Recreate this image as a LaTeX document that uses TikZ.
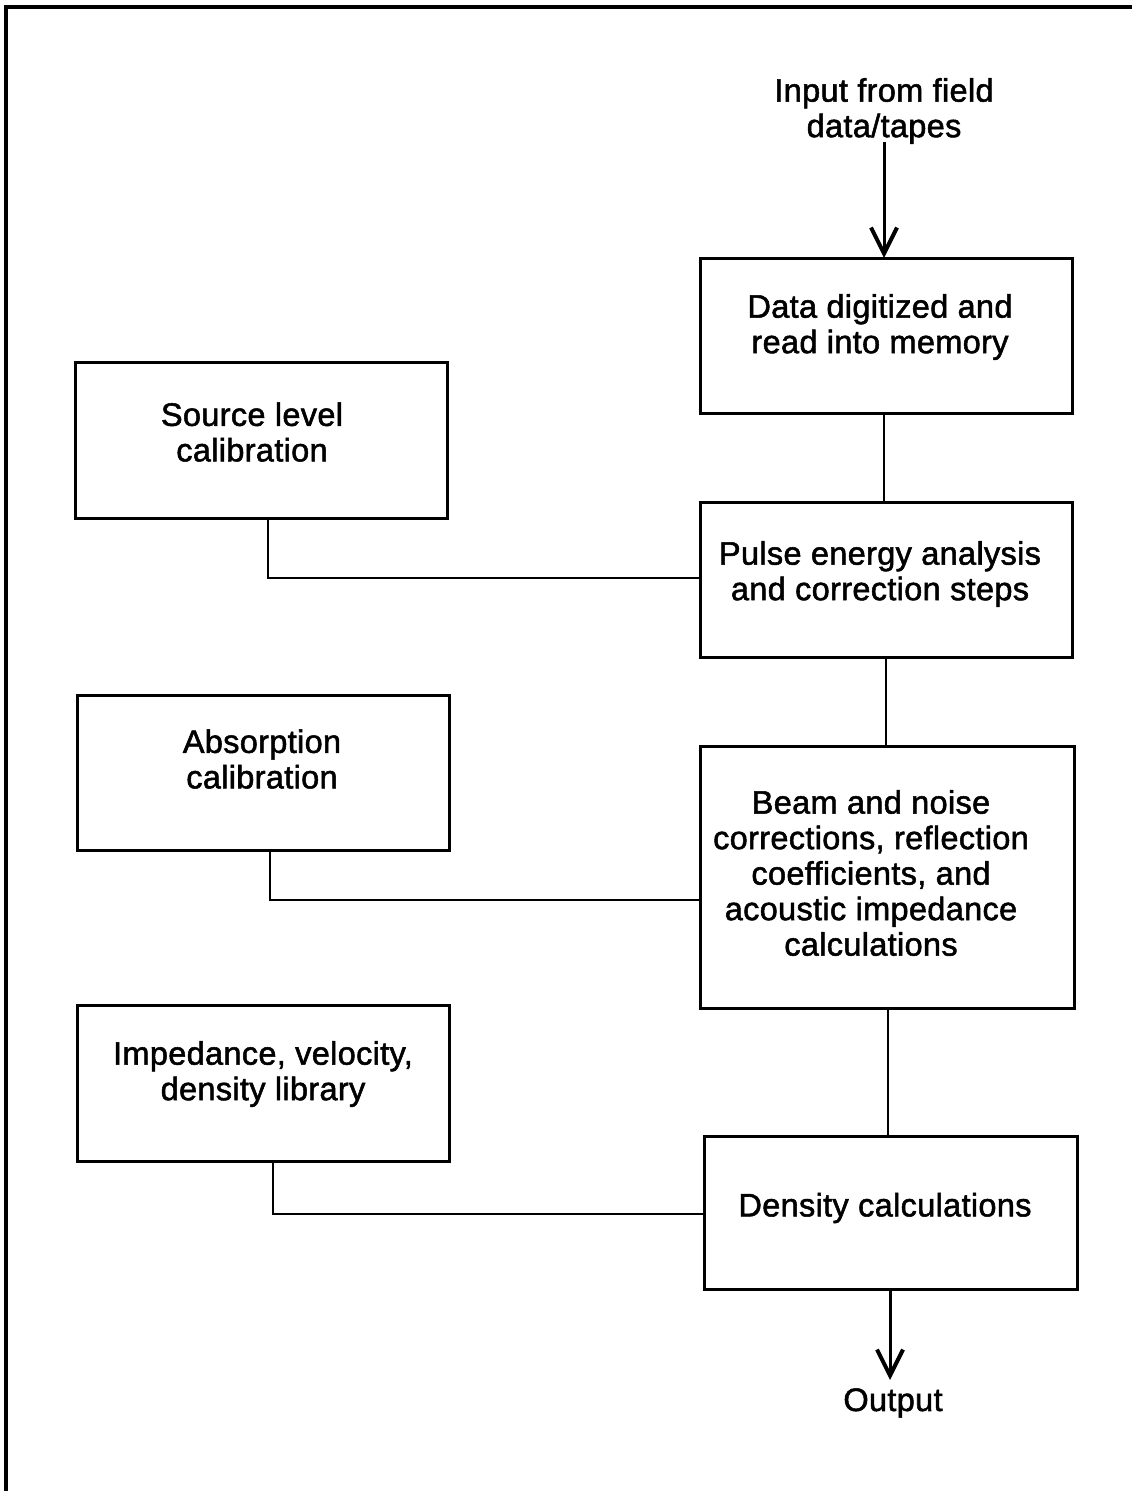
\documentclass[tikz,border=0pt]{standalone}
\usepackage{fontspec}
\setmainfont[LetterSpace=1,FakeBold=1.6]{Liberation Sans}
\usetikzlibrary{arrows.meta}
\begin{document}
\begin{tikzpicture}[x=1pt,y=-1pt,
  box/.style={draw, line width=3pt, inner sep=0pt, outer sep=0pt},
  txt/.style={font=\fontsize{32.5}{35.5}\selectfont, align=center, inner sep=1pt},
  conn/.style={line width=2.8pt},
  arr/.style={line width=3pt, -{Straight Barb[length=26pt,width=26pt,line width=4pt]}}]
\useasboundingbox (0,0) rectangle (1132,1491);
\draw[line width=3.5pt] (6,1491) -- (6,7) -- (1132,7);
% right column boxes
\node[box, minimum width=372pt, minimum height=155pt] (b1) at (886,335.5) {};
\node[box, minimum width=372pt, minimum height=155pt] (b2) at (886,579.5) {};
\node[box, minimum width=374pt, minimum height=262pt] (b3) at (887,877) {};
\node[box, minimum width=373pt, minimum height=153pt] (b4) at (890.5,1212.5) {};
% left column boxes
\node[box, minimum width=372pt, minimum height=156pt] (s1) at (261,440) {};
\node[box, minimum width=372pt, minimum height=155pt] (s2) at (263,772.5) {};
\node[box, minimum width=372pt, minimum height=156pt] (s3) at (263,1083) {};
% texts
\node[txt] (tin) at (884,111) {Input from field\\data/tapes};
\node[txt] (t1) at (880,327) {Data digitized and\\read into memory};
\node[txt] (t2) at (880,574) {Pulse energy analysis\\and correction steps};
\node[txt] (t3) at (871,873) {Beam and noise\\corrections, reflection\\coefficients, and\\acoustic impedance\\calculations};
\node[txt] (t4) at (885,1208) {Density calculations};
\node[txt] (ts1) at (252,432) {Source level\\calibration};
\node[txt] (ts2) at (262,759) {Absorption\\calibration};
\node[txt] (ts3) at (263,1074) {Impedance, velocity,\\density library};
\node[txt] (tout) at (893,1403) {Output};
% connectors
\coordinate (cin) at (884,142);
\draw[arr] (cin) -- (cin |- b1.north);
\draw[conn] (b1.south -| 884,0) -- (884,0 |- b2.north);
\draw[conn] (b2.south -| 886,0) -- (886,0 |- b3.north);
\draw[conn] (b3.south -| 888,0) -- (888,0 |- b4.north);
\draw[arr] (b4.south -| 890,0) -- (890,1380);
\draw[conn] (s1.south -| 268,0) |- ([yshift=1.5pt]b2.west);
\draw[conn] (s2.south -| 270,0) |- ([yshift=-23pt]b3.west);
\draw[conn] (s3.south -| 273,0) |- ([yshift=-1.5pt]b4.west);
\end{tikzpicture}
\end{document}
